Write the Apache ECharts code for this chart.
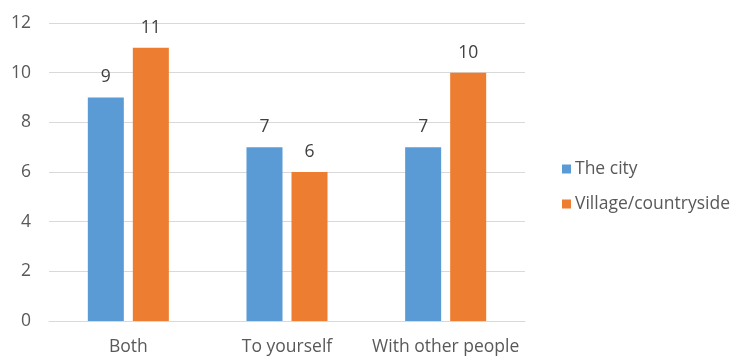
<!DOCTYPE html>
<html>
<head>
<meta charset="utf-8">
<script src="https://cdn.jsdelivr.net/npm/echarts@6/dist/echarts.min.js"></script>
<style>
  html, body { margin: 0; padding: 0; background: #ffffff; }
  #chart { width: 737px; height: 356px; }
</style>
</head>
<body>
<div id="chart"></div>
<script>
// Categories and series values
const categories = ['Both', 'To yourself', 'With other people'];
const cityValues = [9, 7, 7];
const villageValues = [11, 6, 10];
const seriesNames = ['The city', 'Village/countryside'];
const yTicks = { min: 0, max: 12, interval: 2 };

const FONT = '"Open Sans", "Noto Sans", sans-serif';
const FS = 17.5;

const chart = echarts.init(document.getElementById('chart'), null, { renderer: 'canvas' });

const labelStyle = {
  show: true,
  position: 'top',
  distance: 11,
  color: '#404040',
  fontFamily: FONT,
  fontSize: FS
};

chart.setOption({
  animation: false,
  textStyle: { fontFamily: FONT },
  grid: { left: 49, right: 212, top: 23, bottom: 35, containLabel: false },
  legend: {
    orient: 'vertical',
    left: 557,
    top: 155,
    itemWidth: 9,
    itemHeight: 9,
    itemGap: 17,
    icon: 'rect',
    textStyle: { color: '#595959', fontSize: FS, fontFamily: FONT, padding: [0, 0, 0, -1] },
    data: seriesNames
  },
  xAxis: {
    type: 'category',
    data: categories,
    axisTick: { show: false },
    axisLine: { lineStyle: { color: '#D9D9D9', width: 1 } },
    axisLabel: { color: '#595959', fontSize: FS, fontFamily: FONT, margin: 17, interval: 0 }
  },
  yAxis: {
    type: 'value',
    min: yTicks.min,
    max: yTicks.max,
    interval: yTicks.interval,
    axisLine: { show: false },
    axisTick: { show: false },
    splitLine: { lineStyle: { color: '#D9D9D9', width: 1 } },
    axisLabel: { color: '#595959', fontSize: FS, fontFamily: FONT, margin: 18 }
  },
  series: [
    {
      name: seriesNames[0],
      type: 'bar',
      data: cityValues,
      barWidth: '22.7%',
      barGap: '25%',
      itemStyle: { color: '#5B9BD5' },
      label: labelStyle
    },
    {
      name: seriesNames[1],
      type: 'bar',
      data: villageValues,
      barWidth: '22.7%',
      barGap: '25%',
      itemStyle: { color: '#ED7D31' },
      label: labelStyle
    }
  ]
});
</script>
</body>
</html>
